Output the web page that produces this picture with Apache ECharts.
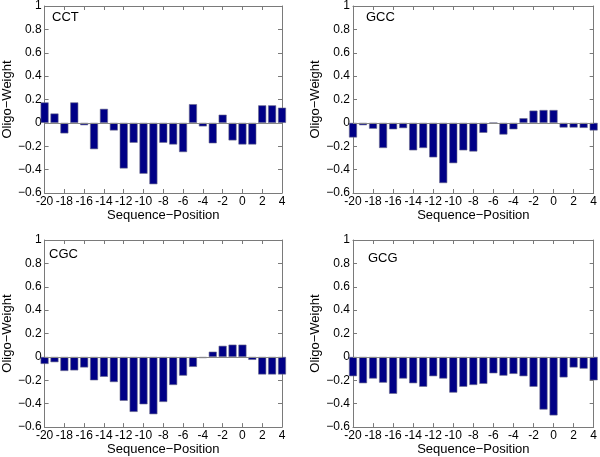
<!DOCTYPE html>
<html>
<head>
<meta charset="utf-8">
<script src="https://cdn.jsdelivr.net/npm/echarts@6/dist/echarts.min.js"></script>
<style>
html,body{margin:0;padding:0;background:#fff;}
#chart{width:600px;height:457px;}
</style>
</head>
<body>
<div id="chart"></div>
<script>
// Data
const positions = [-20,-19,-18,-17,-16,-15,-14,-13,-12,-11,-10,-9,-8,-7,-6,-5,-4,-3,-2,-1,0,1,2,3,4];
const xTicks = [-20,-18,-16,-14,-12,-10,-8,-6,-4,-2,0,2,4];
const yTicks = [-0.6,-0.4,-0.2,0,0.2,0.4,0.6,0.8,1];
const panelNames = ['CCT','GCC','CGC','GCG'];
const cctValues = [0.175,0.08,-0.09,0.175,-0.02,-0.225,0.12,-0.065,-0.39,-0.17,-0.435,-0.525,-0.17,-0.185,-0.25,0.16,-0.03,-0.175,0.07,-0.15,-0.185,-0.185,0.15,0.15,0.13];
const gccValues = [-0.125,-0.02,-0.05,-0.215,-0.055,-0.045,-0.235,-0.215,-0.295,-0.515,-0.345,-0.235,-0.245,-0.085,0,-0.1,-0.055,0.04,0.105,0.11,0.11,-0.04,-0.04,-0.043,-0.065];
const cgcValues = [-0.06,-0.045,-0.12,-0.115,-0.09,-0.2,-0.17,-0.215,-0.375,-0.47,-0.405,-0.49,-0.385,-0.24,-0.16,-0.085,-0.01,0.045,0.095,0.105,0.105,-0.025,-0.15,-0.15,-0.15];
const gcgValues = [-0.165,-0.225,-0.185,-0.22,-0.315,-0.185,-0.225,-0.255,-0.165,-0.185,-0.305,-0.255,-0.24,-0.23,-0.14,-0.16,-0.145,-0.165,-0.255,-0.45,-0.5,-0.175,-0.09,-0.1,-0.2];
const xTitle = 'Sequence\u2212Position';
const yTitle = 'Oligo\u2212Weight';

const allValues = [cctValues, gccValues, cgcValues, gcgValues];
const grids = [
  {left:39, top:3, width:243, height:190},
  {left:353, top:3, width:244, height:190},
  {left:39, top:240, width:243, height:190},
  {left:353, top:240, width:244, height:190}
];
const labelPos = [[52,11],[366,11],[49,248],[368,252]];

const FONT = 'Liberation Sans, Arial, Helvetica, sans-serif';
const axisColor = '#7a7a7a';
const fmtY = v => {
  const r = Math.round(v*10)/10;
  return String(r).replace('-', '\u2212');
};
const fmtX = v => String(Math.round(v));

const xAxes = [], yAxes = [], series = [], graphics = [];
grids.forEach((g, i) => {
  xAxes.push({
    type:'value', gridIndex:i, position:'bottom', min:xTicks[0], max:xTicks[xTicks.length-1], interval:2,
    name:xTitle, nameLocation:'middle', nameGap:13,
    nameTextStyle:{fontFamily:FONT, fontSize:13, color:'#000', verticalAlign:'top'},
    axisLine:{show:true, onZero:false, lineStyle:{color:axisColor, width:1}},
    axisTick:{show:true, inside:true, length:4, lineStyle:{color:axisColor}},
    axisLabel:{show:true, margin:3, fontFamily:FONT, fontSize:12, color:'#000', formatter:fmtX, showMinLabel:true, showMaxLabel:true, hideOverlap:false},
    splitLine:{show:false}
  });
  xAxes.push({
    type:'value', gridIndex:i, position:'top', min:xTicks[0], max:xTicks[xTicks.length-1], interval:2,
    axisLine:{show:true, onZero:false, lineStyle:{color:axisColor, width:1}},
    axisTick:{show:true, inside:true, length:4, lineStyle:{color:axisColor}},
    axisLabel:{show:false}, splitLine:{show:false}
  });
  yAxes.push({
    type:'value', gridIndex:i, position:'left', min:yTicks[0], max:yTicks[yTicks.length-1], interval:0.2,
    name:yTitle, nameLocation:'middle', nameGap:29, nameRotate:90,
    nameTextStyle:{fontFamily:FONT, fontSize:13, color:'#000'},
    axisLine:{show:true, onZero:false, lineStyle:{color:axisColor, width:1}},
    axisTick:{show:true, inside:true, length:4, lineStyle:{color:axisColor}},
    axisLabel:{show:true, margin:3, fontFamily:FONT, fontSize:12, color:'#000', formatter:fmtY, showMinLabel:true, showMaxLabel:true},
    splitLine:{show:false}
  });
  yAxes.push({
    type:'value', gridIndex:i, position:'right', min:yTicks[0], max:yTicks[yTicks.length-1], interval:0.2,
    axisLine:{show:true, onZero:false, lineStyle:{color:axisColor, width:1}},
    axisTick:{show:true, inside:true, length:4, lineStyle:{color:axisColor}},
    axisLabel:{show:false}, splitLine:{show:false}
  });
  series.push({
    type:'bar', xAxisIndex:i*2, yAxisIndex:i*2, clip:true, barWidth:8,
    data: positions.map((p, k) => [p, allValues[i][k]]),
    itemStyle:{color:'#000086', borderColor:'#6a6a8a', borderWidth:0.6},
    animation:false,
    markLine:{
      silent:true, symbol:'none', label:{show:false},
      lineStyle:{color:'#888', width:1, type:'solid'},
      data:[{yAxis:0}]
    }
  });
  graphics.push({
    type:'text', left:labelPos[i][0], top:labelPos[i][1],
    style:{text:panelNames[i], font:'13px ' + FONT, fill:'#000'}
  });
});

const chart = echarts.init(document.getElementById('chart'), null, {renderer:'canvas'});
chart.setOption({
  animation:false,
  backgroundColor:'#fff',
  grid: grids.map(g => Object.assign({containLabel:false}, g)),
  xAxis: xAxes,
  yAxis: yAxes,
  series: series,
  graphic: graphics
});
</script>
</body>
</html>
